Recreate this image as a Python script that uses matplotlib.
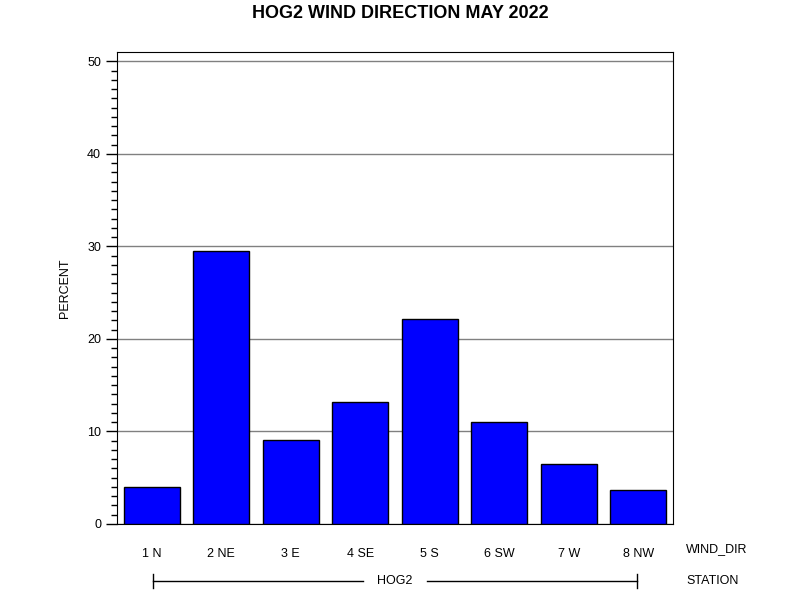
import matplotlib.pyplot as plt
from matplotlib.ticker import MultipleLocator, FixedLocator

plt.rcParams['font.family'] = ['Liberation Sans', 'DejaVu Sans']

directions = ['1 N', '2 NE', '3 E', '4 SE', '5 S', '6 SW', '7 W', '8 NW']
percent = [4.0, 29.5, 9.1, 13.2, 22.2, 11.0, 6.5, 3.7]
station = 'HOG2'

fig = plt.figure(figsize=(8, 6), dpi=100)
ax = fig.add_axes([0.14625, 0.12667, 0.695, 0.78667])

x = range(len(directions))
ax.bar(x, percent, width=0.8, color='#0000ff', edgecolor='black', linewidth=1, zorder=3)

ax.set_xlim(-0.5, len(directions) - 0.5)
ax.set_ylim(0, 51)
ax.yaxis.set_major_locator(MultipleLocator(10))
ax.yaxis.set_minor_locator(FixedLocator([v for v in range(51) if v % 10]))
ax.grid(axis='y', color='#808080', linewidth=1, zorder=0)
ax.set_xticks(list(x))
ax.set_xticklabels(directions, fontsize=9)
ax.tick_params(axis='x', length=0, pad=17)
ax.tick_params(axis='y', which='major', length=8, width=1, labelsize=9)
ax.tick_params(axis='y', which='minor', length=4, width=1)
ax.set_ylabel('PERCENT', fontsize=9)
ax.yaxis.set_label_coords(-0.083, 0.5)

fig.text(0.5, 1 - 13 / 600, 'HOG2 WIND DIRECTION MAY 2022', ha='center', va='center',
         fontsize=13, fontweight='bold')
fig.text(686 / 800, 1 - 549 / 600, 'WIND_DIR', ha='left', va='center', fontsize=9)
fig.text(686 / 800, 1 - 581 / 600, 'STATION', ha='left', va='center', fontsize=9)

# station bracket under the categories
yb = 1 - 581 / 600
x0, x1 = 153 / 800, 637 / 800
xm = (x0 + x1) / 2
fig.add_artist(plt.Line2D([x0, xm - 0.04], [yb, yb], color='black', linewidth=1))
fig.add_artist(plt.Line2D([xm + 0.04, x1], [yb, yb], color='black', linewidth=1))
fig.add_artist(plt.Line2D([x0, x0], [yb - 0.012, yb + 0.012], color='black', linewidth=1))
fig.add_artist(plt.Line2D([x1, x1], [yb - 0.012, yb + 0.012], color='black', linewidth=1))
fig.text(xm, yb, station, ha='center', va='center', fontsize=9)

fig.savefig('out.png', dpi=100)
